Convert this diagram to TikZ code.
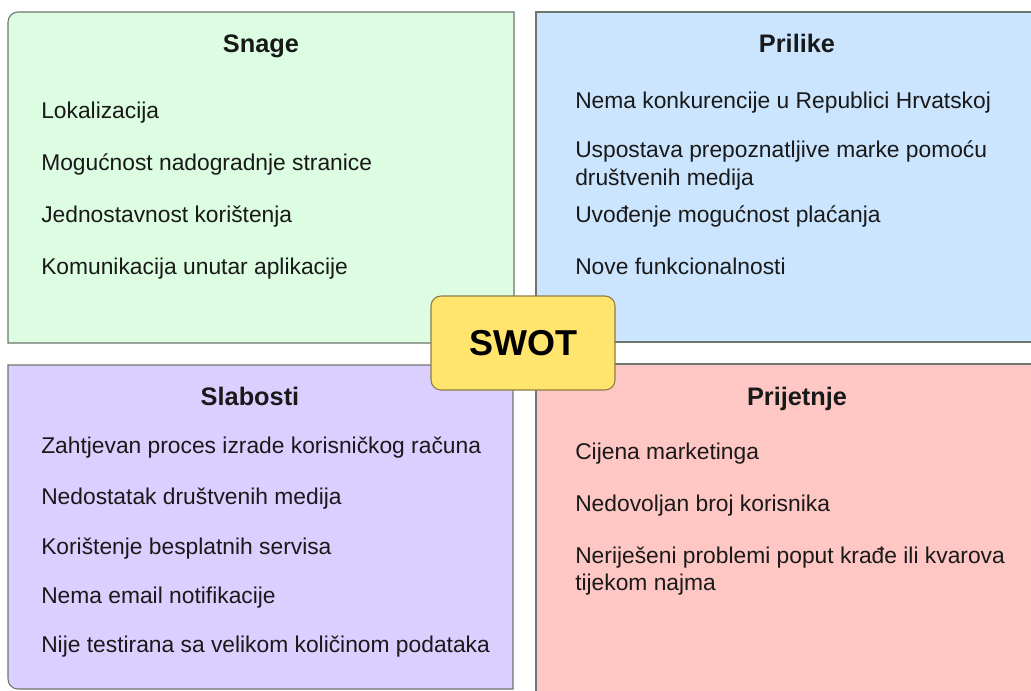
\documentclass[tikz,border=0pt]{standalone}
\usepackage{fontspec}
\setmainfont{Liberation Sans}
\definecolor{sgreen}{RGB}{220,253,225}
\definecolor{sblue}{RGB}{204,229,255}
\definecolor{spurple}{RGB}{219,207,255}
\definecolor{sred}{RGB}{255,199,195}
\definecolor{syellow}{RGB}{255,228,110}
\definecolor{sedge}{RGB}{110,118,112}
\definecolor{yedge}{RGB}{140,125,70}
\definecolor{stext}{RGB}{25,25,25}
\begin{document}
\begin{tikzpicture}[x=0.75pt,y=-0.75pt,
  quad/.style={draw=sedge, line width=0.8pt},
  heading/.style={anchor=base, inner sep=0pt, text=stext, font=\fontsize{19}{22}\selectfont\bfseries},
  item/.style={anchor=base west, inner sep=0pt, text=stext, align=left, font=\fontsize{17.1}{21}\selectfont},
  swotbox/.style={draw=yedge, line width=0.8pt, fill=syellow, rounded corners=7.5pt, minimum width=138pt, minimum height=70.5pt, inner sep=0pt, font=\fontsize{27}{30}\selectfont\bfseries, text=black}
]
\useasboundingbox (0,0) rectangle (1031,690);
\clip (0,0) rectangle (1031,690);
\fill[white] (0,0) rectangle (1031,690);
% quadrants (outer corners rounded, inner corners square)
\draw[quad, fill=sgreen] (8,200) {[rounded corners=7.5pt] -- (8,12) -- (200,12)} -- (514,12) -- (514,343) -- (8,343) -- cycle;
\draw[quad, fill=sblue] (536,12) rectangle (1058,342);
\draw[quad, fill=spurple] (8,500) {[rounded corners=7.5pt] -- (8,689) -- (200,689)} -- (513,689) -- (513,365) -- (8,365) -- cycle;
\draw[quad, fill=sred] (536,364) rectangle (1058,700);
% headings
\node[heading] (hs) at (261,52) {Snage};
\node[heading] (ho) at (797,52) {Prilike};
\node[heading] (hw) at (250,405) {Slabosti};
\node[heading] (ht) at (797,405) {Prijetnje};
% strengths
\node[item] (s1) at (41,118) {Lokalizacija};
\node[item] (s2) at (41,170) {Mogućnost nadogradnje stranice};
\node[item] (s3) at (41,222) {Jednostavnost korištenja};
\node[item] (s4) at (41,274) {Komunikacija unutar aplikacije};
% opportunities
\node[item] (o1) at (575,108) {Nema konkurencije u Republici Hrvatskoj};
\node[item] (o2) at (575,157) {Uspostava prepoznatljive marke pomoću};
\node[item] (o2b) at (575,185) {društvenih medija};
\node[item] (o3) at (575,222) {Uvođenje mogućnost plaćanja};
\node[item] (o4) at (575,274) {Nove funkcionalnosti};
% weaknesses
\node[item] (w1) at (41,453) {Zahtjevan proces izrade korisničkog računa};
\node[item] (w2) at (41,504) {Nedostatak društvenih medija};
\node[item] (w3) at (41,554) {Korištenje besplatnih servisa};
\node[item] (w4) at (41,603) {Nema email notifikacije};
\node[item] (w5) at (41,652) {Nije testirana sa velikom količinom podataka};
% threats
\node[item] (t1) at (575,459) {Cijena marketinga};
\node[item] (t2) at (575,511) {Nedovoljan broj korisnika};
\node[item] (t3) at (575,563) {Neriješeni problemi poput krađe ili kvarova};
\node[item] (t3b) at (575,590) {tijekom najma};
% centre
\node[swotbox] (swot) at (523,343) {SWOT};
\end{tikzpicture}
\end{document}
